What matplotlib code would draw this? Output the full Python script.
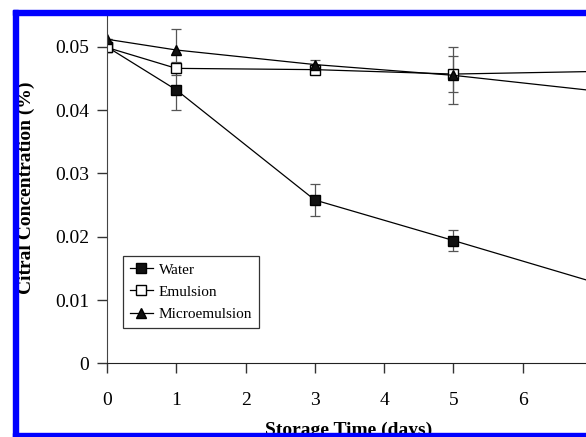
import numpy as np
import matplotlib
matplotlib.use("Agg")
import matplotlib.pyplot as plt
from matplotlib.patches import Rectangle

# storage time (days) and citral concentration (%)
days = [0, 1, 3, 5, 7]
water = [0.0500, 0.0432, 0.0258, 0.0194, 0.0129]
water_err = [0, 0.0031, 0.0026, 0.0017, 0]
emulsion = [0.0499, 0.0466, 0.0464, 0.0457, 0.0461]
emulsion_err = [0, 0.0010, 0, 0.0029, 0]
micro = [0.0512, 0.0495, 0.0472, 0.0455, 0.0431]
micro_err = [0, 0.0033, 0.0008, 0.0045, 0]

xticks = [0, 1, 2, 3, 4, 5, 6]
yticks = [0, 0.01, 0.02, 0.03, 0.04, 0.05]
ytick_labels = ["0", "0.01", "0.02", "0.03", "0.04", "0.05"]

plt.rcParams["font.family"] = ["Liberation Serif", "DejaVu Serif"]

W, H = 586, 437
fig = plt.figure(figsize=(W / 100, H / 100), dpi=100)
# axes runs past the right edge of the picture (cropped figure)
ax = fig.add_axes([107 / W, 1 - 363.3 / H, 485 / W, 348.1 / H])

err_kw = dict(fmt="none", ecolor="#555555", elinewidth=0.9, capsize=3.5, capthick=0.9)
ax.errorbar(days, water, yerr=water_err, **err_kw)
ax.errorbar(days, emulsion, yerr=emulsion_err, **err_kw)
ax.errorbar(days, micro, yerr=micro_err, **err_kw)

ax.plot(days, water, color="black", lw=0.9, marker="s", ms=6.5,
        mfc="#111111", mec="black", label="Water")
ax.plot(days, emulsion, color="black", lw=0.9, marker="s", ms=6.5,
        mfc="white", mec="black", label="Emulsion")
ax.plot(days, micro, color="black", lw=0.9, marker="^", ms=7,
        mfc="#111111", mec="black", label="Microemulsion")

ax.set_xlim(0, 7)
ax.set_ylim(0, 0.055)
ax.set_xticks(xticks)
ax.set_yticks(yticks)
ax.set_yticklabels(ytick_labels)
ax.spines["top"].set_visible(False)
ax.spines["right"].set_visible(False)
ax.spines["left"].set_color("#444444")
ax.spines["bottom"].set_color("#222222")
ax.tick_params(axis="x", direction="out", length=7, width=1, pad=14,
               labelsize=14, color="#333333")
ax.tick_params(axis="y", direction="out", length=7, width=1, pad=6,
               labelsize=14, color="#333333")

leg = ax.legend(loc="upper left", bbox_to_anchor=(0.033, 0.308), borderaxespad=0,
                fontsize=11, frameon=True, fancybox=False, handlelength=1.5,
                handletextpad=0.4, labelspacing=0.55, borderpad=0.45)
leg.get_frame().set_edgecolor("black")
leg.get_frame().set_linewidth(0.9)

fig.text(349 / W, 1 - 434.5 / H, "Storage Time (days)", fontsize=14,
         fontweight="bold", ha="center", va="baseline")
fig.text(26 / W, 1 - 188 / H, "Citral Concentration (%)", fontsize=14,
         fontweight="bold", ha="center", va="center", rotation=90)

# blue frame around the cropped figure
blue = "#0000ff"
fig.add_artist(Rectangle((12.7 / W, 0), 4.8 / W, 1 - 10 / H,
                         transform=fig.transFigure, color=blue, zorder=10))
fig.add_artist(Rectangle((12.7 / W, 1 - 15.2 / H), 1, 5.2 / H,
                         transform=fig.transFigure, color=blue, zorder=10))
fig.add_artist(Rectangle((12.7 / W, 0), 1, 3.8 / H,
                         transform=fig.transFigure, color=blue, zorder=10))

fig.savefig("out.png", dpi=100)
